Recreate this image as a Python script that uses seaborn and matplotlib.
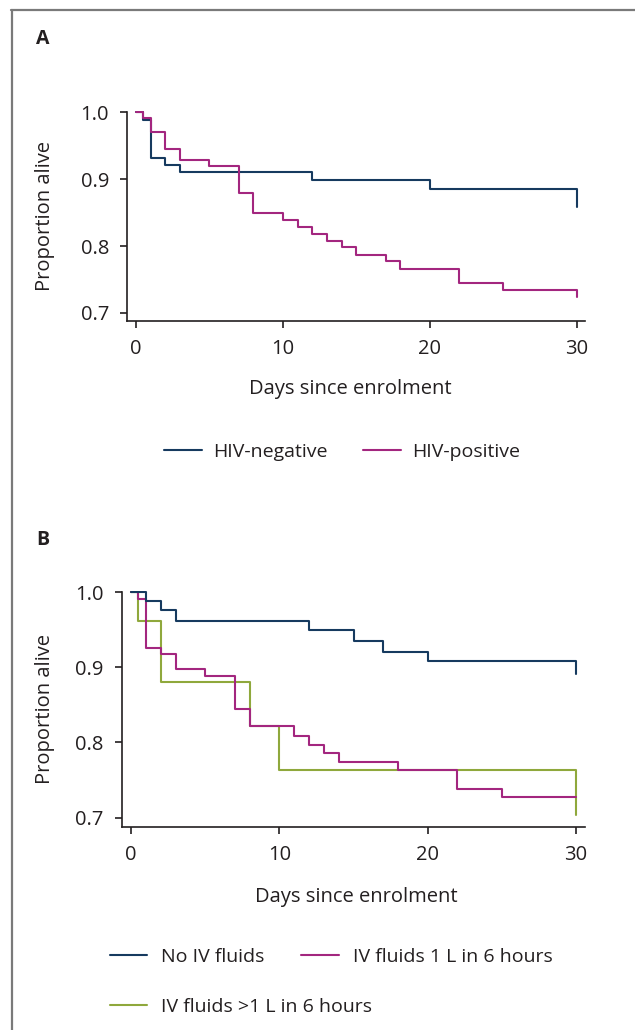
import numpy as np
import pandas as pd
import matplotlib
matplotlib.use("Agg")
import matplotlib.pyplot as plt
from matplotlib.lines import Line2D
import seaborn as sns

# Panel A: survival by HIV status
days_hiv_neg = [0, 0.5, 1, 2, 3, 12, 20, 30]
surv_hiv_neg = [1.0, 0.989, 0.932, 0.922, 0.911, 0.899, 0.885, 0.859]

days_hiv_pos = [0, 0.5, 1, 2, 3, 5, 7, 8, 10, 11, 12, 13, 14, 15, 17, 18, 22, 25, 30]
surv_hiv_pos = [1.0, 0.992, 0.970, 0.945, 0.928, 0.920, 0.880, 0.849, 0.839, 0.828,
                0.818, 0.807, 0.798, 0.787, 0.777, 0.766, 0.745, 0.735, 0.724]

# Panel B: survival by IV fluids
days_no_iv = [0, 1, 2, 3, 12, 15, 17, 20, 30]
surv_no_iv = [1.0, 0.988, 0.976, 0.962, 0.949, 0.935, 0.920, 0.908, 0.891]

days_iv_1l = [0, 0.5, 1, 2, 3, 5, 7, 8, 11, 12, 13, 14, 18, 22, 25, 30]
surv_iv_1l = [1.0, 0.991, 0.926, 0.918, 0.898, 0.888, 0.845, 0.822, 0.809, 0.797,
              0.786, 0.774, 0.763, 0.738, 0.727, 0.727]

days_iv_gt1l = [0, 0.5, 2, 8, 10, 30]
surv_iv_gt1l = [1.0, 0.961, 0.881, 0.822, 0.763, 0.704]

x_ticks = [0, 10, 20, 30]
y_ticks = [0.7, 0.8, 0.9, 1.0]

NAVY = "#163a5f"
MAGENTA = "#a3267f"
GREEN = "#8fa83c"
INK = "#231f20"

sns.set_style("ticks")
plt.rcParams['font.family'] = ['Open Sans', 'DejaVu Sans']
plt.rcParams['text.color'] = INK
plt.rcParams['axes.labelcolor'] = INK
plt.rcParams['xtick.color'] = INK
plt.rcParams['ytick.color'] = INK

W, H = 635, 1030
fig = plt.figure(figsize=(W / 100, H / 100), dpi=100)


def px_axes(left, top, right, bottom):
    return fig.add_axes([left / W, 1 - bottom / H, (right - left) / W, (bottom - top) / H])


def km(ax, days, surv, color):
    df = pd.DataFrame({'day': days, 'surv': surv})
    sns.lineplot(data=df, x='day', y='surv', ax=ax, color=color, lw=1.5,
                 drawstyle='steps-post', estimator=None, sort=False)


def style(ax, xlab_x, xlab_y, ylab_x):
    ax.set_ylim(0.688, 1.002)
    ax.set_yticks(y_ticks)
    ax.set_yticklabels([f"{v:.1f}" for v in y_ticks])
    ax.set_xticks(x_ticks)
    ax.spines['top'].set_visible(False)
    ax.spines['right'].set_visible(False)
    ax.spines['left'].set_bounds(0.688, 1.0)
    for s in ('left', 'bottom'):
        ax.spines[s].set_color(INK)
        ax.spines[s].set_linewidth(1.2)
    ax.tick_params(axis='both', labelsize=14.5, length=5, width=1.2, direction='out')
    ax.tick_params(axis='x', pad=8)
    ax.tick_params(axis='y', pad=8)
    ax.set_xlabel("Days since enrolment", fontsize=14.5)
    ax.set_ylabel("Proportion alive", fontsize=14.5)
    ax.xaxis.set_label_coords(xlab_x, xlab_y)
    ax.yaxis.set_label_coords(ylab_x, 0.5)
    ax.xaxis.label.set_va('center')
    ax.yaxis.label.set_va('center')


# Panel A
axA = px_axes(127, 111, 585, 321)
km(axA, days_hiv_neg, surv_hiv_neg, NAVY)
km(axA, days_hiv_pos, surv_hiv_pos, MAGENTA)
axA.set_xlim(-0.6, 30.55)
style(axA, 0.487, -0.324, -0.179)

axA.legend(handles=[Line2D([], [], color=NAVY, lw=1.5), Line2D([], [], color=MAGENTA, lw=1.5)],
           labels=["HIV-negative", "HIV-positive"], ncol=2, frameon=False, fontsize=14,
           handlelength=1.95, handletextpad=0.6, columnspacing=1.8,
           loc='center', bbox_to_anchor=((342 - 127) / 458, (321 - 452) / 210))

# Panel B
axB = px_axes(121.7, 590.6, 585, 826.7)
km(axB, days_iv_gt1l, surv_iv_gt1l, GREEN)
km(axB, days_iv_1l, surv_iv_1l, MAGENTA)
km(axB, days_no_iv, surv_no_iv, NAVY)
axB.set_xlim(-0.63, 30.6)
style(axB, 0.506, -0.298, -0.1656)

legB1 = axB.legend(handles=[Line2D([], [], color=NAVY, lw=1.5), Line2D([], [], color=MAGENTA, lw=1.5)],
                   labels=["No IV fluids", "IV fluids 1 L in 6 hours"], ncol=2, frameon=False, fontsize=14,
                   handlelength=1.95, handletextpad=0.7, columnspacing=1.9,
                   loc='center left', bbox_to_anchor=((92 - 121.7) / 463.3, (826.7 - 957) / 236))
axB.add_artist(legB1)
axB.legend(handles=[Line2D([], [], color=GREEN, lw=1.5)],
           labels=["IV fluids >1 L in 6 hours"], frameon=False, fontsize=14,
           handlelength=1.95, handletextpad=0.7,
           loc='center left', bbox_to_anchor=((92 - 121.7) / 463.3, (826.7 - 1007) / 236))

# panel letters
fig.text(36 / W, 1 - 39 / H, "A", fontsize=14, fontweight='bold', va='center', ha='left')
fig.text(36 / W, 1 - 540 / H, "B", fontsize=14, fontweight='bold', va='center', ha='left')

# frame lines on top and left
fig.add_artist(Line2D([11 / W, 1], [1 - 10 / H, 1 - 10 / H], transform=fig.transFigure, color="#7a7a7a", lw=1.6))
fig.add_artist(Line2D([12 / W, 12 / W], [0, 1 - 10 / H], transform=fig.transFigure, color="#7a7a7a", lw=1.6))

fig.savefig("out.png", dpi=100)
